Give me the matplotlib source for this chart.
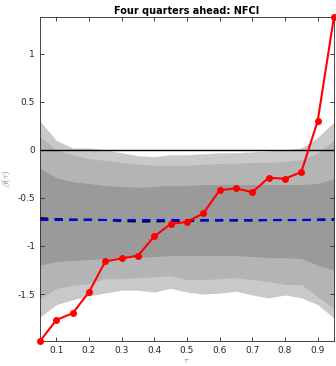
import numpy as np
import matplotlib.pyplot as plt

plt.rcParams['font.family'] = 'DejaVu Sans'
plt.rcParams['mathtext.fontset'] = 'cm'

# quantile levels
tau = [0.05, 0.10, 0.15, 0.20, 0.25, 0.30, 0.35, 0.40, 0.45, 0.50,
       0.55, 0.60, 0.65, 0.70, 0.75, 0.80, 0.85, 0.90, 0.95]

# quantile regression coefficient
beta_qr = [-1.99, -1.77, -1.70, -1.48, -1.16, -1.13, -1.10, -0.90, -0.77, -0.75,
           -0.66, -0.42, -0.40, -0.44, -0.29, -0.30, -0.23, 0.30, 1.385]

# OLS estimate (blue) and mean (black dashed)
beta_ols = [-0.73] * 19
beta_mean = [-0.71, -0.72, -0.725, -0.725, -0.73, -0.74, -0.745, -0.745, -0.74, -0.74,
             -0.735, -0.735, -0.735, -0.735, -0.73, -0.73, -0.73, -0.725, -0.72]

# confidence bands (outer, middle, inner)
outer_hi = [0.30, 0.10, 0.02, 0.02, 0.00, -0.03, -0.06, -0.07, -0.05, -0.05,
            -0.04, -0.03, -0.03, -0.02, -0.01, 0.00, 0.02, 0.13, 0.29]
outer_lo = [-1.74, -1.61, -1.56, -1.52, -1.49, -1.46, -1.46, -1.48, -1.44, -1.48,
            -1.50, -1.49, -1.47, -1.51, -1.54, -1.51, -1.54, -1.61, -1.75]
mid_hi = [0.14, 0.00, -0.05, -0.09, -0.11, -0.13, -0.15, -0.16, -0.16, -0.16,
          -0.15, -0.14, -0.14, -0.13, -0.13, -0.12, -0.10, -0.03, 0.10]
mid_lo = [-1.55, -1.44, -1.41, -1.39, -1.34, -1.34, -1.33, -1.32, -1.31, -1.35,
          -1.35, -1.34, -1.33, -1.35, -1.37, -1.40, -1.40, -1.53, -1.65]
in_hi = [-0.19, -0.29, -0.33, -0.35, -0.37, -0.38, -0.39, -0.38, -0.37, -0.37,
         -0.36, -0.36, -0.36, -0.36, -0.36, -0.36, -0.36, -0.35, -0.30]
in_lo = [-1.20, -1.16, -1.15, -1.14, -1.13, -1.12, -1.12, -1.11, -1.10, -1.10,
         -1.10, -1.10, -1.10, -1.11, -1.12, -1.12, -1.13, -1.20, -1.25]

fig = plt.figure(figsize=(3.36, 3.66), dpi=100)
ax = fig.add_axes([0.119, 0.068, 0.875, 0.886])

ax.fill_between(tau, outer_lo, outer_hi, color='#c9c9c9', lw=0)
ax.fill_between(tau, mid_lo, mid_hi, color='#b4b4b4', lw=0)
ax.fill_between(tau, in_lo, in_hi, color='#9a9a9a', lw=0)

ax.axhline(0, color='black', lw=1)
ax.plot(tau, beta_mean, color='black', lw=1.5, ls=(0, (4, 3)))
ax.plot(tau, beta_ols, color='blue', lw=1.5, ls=(0, (4, 3)))
ax.plot(tau, beta_qr, color='red', lw=1.5, marker='o', ms=4, clip_on=False, zorder=5)

ax.set_xlim(0.05, 0.95)
ax.set_ylim(-1.99, 1.385)
ax.set_xticks([0.1, 0.2, 0.3, 0.4, 0.5, 0.6, 0.7, 0.8, 0.9])
ax.set_xticklabels(['0.1', '0.2', '0.3', '0.4', '0.5', '0.6', '0.7', '0.8', '0.9'])
ax.set_yticks([-1.5, -1, -0.5, 0, 0.5, 1])
ax.set_yticklabels(['-1.5', '-1', '-0.5', '0', '0.5', '1'])
ax.tick_params(direction='in', top=True, right=True, labelsize=6.5, length=3,
               width=0.6, colors='#262626')
for s in ax.spines.values():
    s.set_linewidth(0.6)
    s.set_color('#262626')

ax.set_title('Four quarters ahead: NFCI', fontsize=7, fontweight='bold', pad=2)
ax.set_xlabel(r'$\tau$', fontsize=7, labelpad=0, color='#808080')
ax.set_ylabel(r'$\beta(\tau)$', fontsize=7, labelpad=3, color='#808080')

fig.savefig('out.png', dpi=100)
